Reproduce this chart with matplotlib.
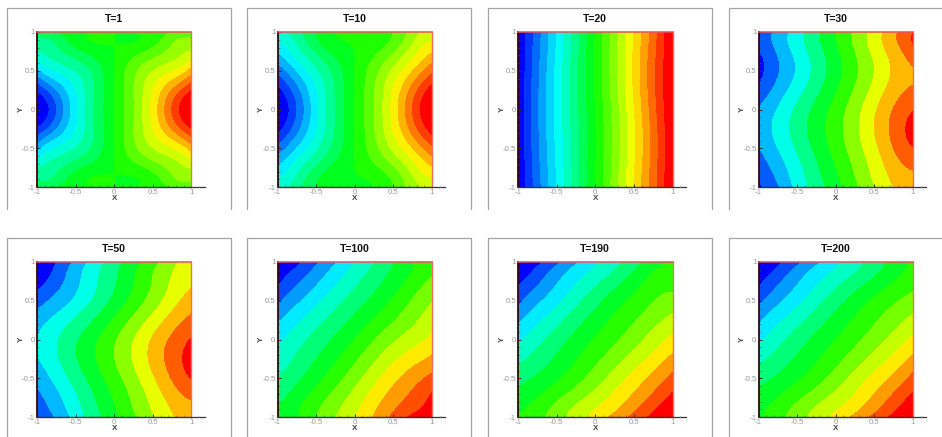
import numpy as np
import matplotlib
matplotlib.use("Agg")
import matplotlib.pyplot as plt
from numpy.polynomial import polynomial as P
from matplotlib.lines import Line2D

plt.rcParams["font.family"] = ["Liberation Sans", "DejaVu Sans"]

W, H = 942, 437

titles = ["T=1", "T=10", "T=20", "T=30", "T=50", "T=100", "T=190", "T=200"]
n_bands = [18, 18, 20, 12, 12, 14, 14, 14]
fit_deg = [6, 6, 5, 6, 6, 6, 6, 6]

grid_x = [-1, -0.75, -0.5, -0.25, 0, 0.25, 0.5, 0.75, 1]
# rows run from y=1 down to y=-1, values (0=blue, 1=red)
t1 = [
    [.43, .45, .47, .505, .50, .495, .53, .55, .57],
    [.33, .37, .425, .47, .50, .53, .575, .63, .67],
    [.20, .278, .345, .395, .50, .605, .655, .722, .80],
    [.055, .167, .27, .40, .50, .60, .73, .833, .945],
    [.00, .11, .255, .395, .50, .605, .745, .89, 1.0],
    [.055, .167, .27, .40, .50, .60, .73, .833, .945],
    [.20, .278, .345, .395, .50, .605, .655, .722, .80],
    [.33, .37, .425, .47, .50, .53, .575, .63, .67],
    [.43, .45, .47, .505, .50, .495, .53, .55, .57],
]
t10 = [
    [.32, .37, .43, .51, .515, .51, .57, .63, .68],
    [.23, .31, .39, .465, .50, .535, .61, .69, .77],
    [.125, .225, .315, .42, .50, .58, .685, .775, .875],
    [.03, .15, .26, .40, .50, .60, .74, .85, .97],
    [.00, .11, .255, .40, .50, .60, .745, .89, 1.0],
    [.03, .15, .26, .40, .50, .60, .74, .85, .97],
    [.125, .225, .315, .42, .50, .58, .685, .775, .875],
    [.23, .31, .39, .465, .50, .535, .61, .69, .77],
    [.32, .37, .43, .49, .485, .49, .57, .63, .68],
]
t20 = [
    [.00, .125, .25, .375, .50, .625, .75, .875, 1.0],
    [.00, .13, .255, .38, .505, .63, .755, .88, 1.0],
    [.00, .135, .26, .385, .505, .63, .76, .885, 1.0],
    [.00, .14, .265, .385, .505, .625, .755, .885, 1.0],
    [.00, .14, .265, .385, .50, .62, .745, .875, 1.0],
    [.00, .14, .26, .38, .495, .615, .74, .87, 1.0],
    [.00, .135, .26, .375, .495, .615, .74, .865, 1.0],
    [.00, .13, .255, .375, .495, .62, .745, .87, 1.0],
    [.00, .125, .25, .375, .50, .625, .75, .875, 1.0],
]
t30 = [
    [.09, .19, .285, .39, .495, .593, .70, .81, .91],
    [.08, .18, .28, .38, .48, .583, .69, .79, .885],
    [.04, .15, .255, .36, .46, .565, .665, .76, .83],
    [.11, .21, .30, .40, .495, .595, .70, .795, .845],
    [.167, .25, .345, .44, .525, .63, .73, .83, .90],
    [.19, .275, .37, .46, .55, .645, .755, .865, .96],
    [.167, .253, .345, .435, .53, .625, .725, .83, .90],
    [.11, .20, .305, .40, .50, .595, .695, .79, .845],
    [.07, .16, .265, .38, .46, .56, .665, .75, .835],
]
t50 = [
    [.03, .08, .185, .28, .375, .46, .55, .64, .72],
    [.05, .125, .225, .315, .405, .495, .585, .675, .735],
    [.125, .20, .27, .355, .44, .535, .625, .72, .79],
    [.20, .27, .335, .42, .505, .60, .69, .78, .85],
    [.255, .325, .405, .49, .57, .665, .76, .85, .92],
    [.245, .325, .41, .495, .58, .68, .775, .875, .96],
    [.19, .27, .365, .455, .545, .635, .735, .835, .91],
    [.14, .225, .32, .415, .51, .60, .695, .785, .845],
    [.11, .175, .28, .375, .475, .565, .66, .74, .81],
]
t100 = [
    [.02, .055, .125, .214, .28, .35, .429, .50, .53],
    [.055, .125, .20, .27, .34, .40, .46, .525, .585],
    [.125, .20, .265, .33, .39, .45, .51, .575, .637],
    [.20, .265, .33, .39, .445, .505, .565, .63, .685],
    [.27, .33, .385, .44, .50, .571, .63, .68, .73],
    [.31, .365, .425, .49, .555, .63, .70, .755, .805],
    [.357, .415, .475, .545, .615, .69, .765, .825, .875],
    [.41, .465, .53, .60, .67, .745, .82, .875, .945],
    [.42, .49, .565, .64, .71, .79, .875, .945, .98],
]
t190 = [
    [.02, .055, .12, .205, .27, .335, .40, .46, .52],
    [.055, .125, .205, .275, .34, .40, .465, .525, .54],
    [.12, .20, .265, .335, .40, .46, .515, .565, .60],
    [.197, .265, .33, .40, .46, .52, .57, .62, .665],
    [.27, .335, .395, .455, .505, .555, .61, .67, .735],
    [.335, .385, .435, .49, .55, .61, .675, .74, .805],
    [.40, .44, .49, .545, .61, .675, .74, .805, .88],
    [.46, .50, .555, .615, .67, .735, .80, .875, .945],
    [.50, .545, .605, .675, .74, .805, .88, .945, .98],
]
t200 = [
    [.02, .055, .12, .20, .266, .33, .395, .455, .515],
    [.055, .125, .205, .27, .335, .39, .445, .50, .54],
    [.12, .20, .265, .33, .395, .455, .51, .56, .60],
    [.197, .265, .33, .395, .455, .515, .565, .615, .664],
    [.27, .335, .395, .45, .50, .55, .605, .665, .73],
    [.336, .385, .435, .485, .545, .605, .67, .735, .803],
    [.40, .44, .49, .545, .605, .67, .735, .80, .88],
    [.46, .50, .555, .61, .665, .73, .795, .875, .945],
    [.485, .545, .605, .67, .734, .80, .88, .945, .98],
]
fields = [t1, t10, t20, t30, t50, t100, t190, t200]

# pixel layout of the eight panels
ax_left = [37, 277.5, 518, 758.5]
ax_top = [32, 262]
ax_w, ax_h = 154.5, 155
frame_left = [7, 247, 488, 729]
frame_right = [231, 471, 712, None]
frame_top = [8, 238]
frame_bottom = [209, 437]

FRAME = "#a4a4a4"
LABEL = "#9a9a9a"


def band_colors(n):
    # tecplot small rainbow, band i takes the colour at i/(n-1)
    anchors = np.array([[0, 0, 1], [0, 1, 1], [0, 1, 0], [1, 1, 0], [1, 0, 0]], dtype=float)
    pos = np.linspace(0, 1, n) * 4
    return [tuple(np.interp(p, range(5), anchors[:, c]) for c in range(3)) for p in pos]


def smooth_field(field, deg):
    # least squares surface through the read values, takes out the reading noise
    xx, yy = np.meshgrid(grid_x, grid_x)
    z = np.array(field)[::-1].ravel()
    vand = P.polyvander2d(xx.ravel(), yy.ravel(), [deg, deg])
    coef = np.linalg.lstsq(vand, z, rcond=None)[0].reshape(deg + 1, deg + 1)
    xf, yf = np.meshgrid(np.linspace(-1, 1, 201), np.linspace(-1, 1, 201))
    return xf, yf, P.polyval2d(xf, yf, coef)


def draw_frame(fig, row, col):
    x0 = frame_left[col] / W
    x1 = (frame_right[col] if frame_right[col] else W) / W
    top = 1 - frame_top[row] / H
    bot = 1 - frame_bottom[row] / H
    xs = [x0, x0, x1] + ([x1] if frame_right[col] else [])
    ys = [bot, top, top] + ([bot] if frame_right[col] else [])
    fig.add_artist(Line2D(xs, ys, color=FRAME, lw=0.9))


def draw_panel(ax, title, field, n, deg):
    xf, yf, zf = smooth_field(field, deg)
    levels = np.linspace(0, 1, n + 1)
    levels[0], levels[-1] = -1, 2
    ax.contourf(xf, yf, zf, levels=levels, colors=band_colors(n))

    ax.set_xlim(-1, 1)
    ax.set_ylim(-1, 1)
    ax.set_xticks([-1, -0.5, 0, 0.5, 1], ["-1", "-0.5", "0", "0.5", "1"])
    ax.set_yticks([-1, -0.5, 0, 0.5, 1], ["-1", "-0.5", "0", "0.5", "1"])
    ax.set_xticks(np.arange(-1, 1.01, 0.1), minor=True)
    ax.set_yticks(np.arange(-1, 1.01, 0.1), minor=True)
    ax.tick_params(which="major", direction="in", length=2.4, width=0.7, color="#333333",
                   labelsize=5.6, labelcolor=LABEL, pad=1.5)
    ax.tick_params(which="minor", direction="in", length=1.1, width=0.4, color="#555555")

    ax.spines["left"].set_color("#3a0505")
    ax.spines["left"].set_linewidth(1.3)
    ax.spines["bottom"].set_color("#333333")
    ax.spines["bottom"].set_linewidth(1.0)
    ax.spines["top"].set_color("#e8505f")
    ax.spines["top"].set_linewidth(1.1)
    ax.spines["right"].set_color("#f07060")
    ax.spines["right"].set_linewidth(1.0)

    # bottom axis runs on past the plot area
    ax.plot([1, 1.17], [-1, -1], color="#333333", lw=0.9, clip_on=False)
    ax.plot([1.1, 1.1], [-1, -0.985], color="#999999", lw=0.5, clip_on=False)

    ax.set_title(title, fontsize=7.6, fontweight="bold", color="#111111", pad=7.5)
    ax.set_xlabel("X", fontsize=5.8, fontweight="bold", color="#444444", labelpad=-0.5)
    ax.set_ylabel("Y", fontsize=5.8, fontweight="bold", color="#444444", labelpad=-2)


fig = plt.figure(figsize=(W / 100, H / 100), dpi=100, facecolor="white")

for i, (title, field, n, deg) in enumerate(zip(titles, fields, n_bands, fit_deg)):
    row, col = divmod(i, 4)
    draw_frame(fig, row, col)
    ax = fig.add_axes([ax_left[col] / W, 1 - (ax_top[row] + ax_h) / H, ax_w / W, ax_h / H])
    draw_panel(ax, title, field, n, deg)

fig.savefig("out.png", dpi=100)
